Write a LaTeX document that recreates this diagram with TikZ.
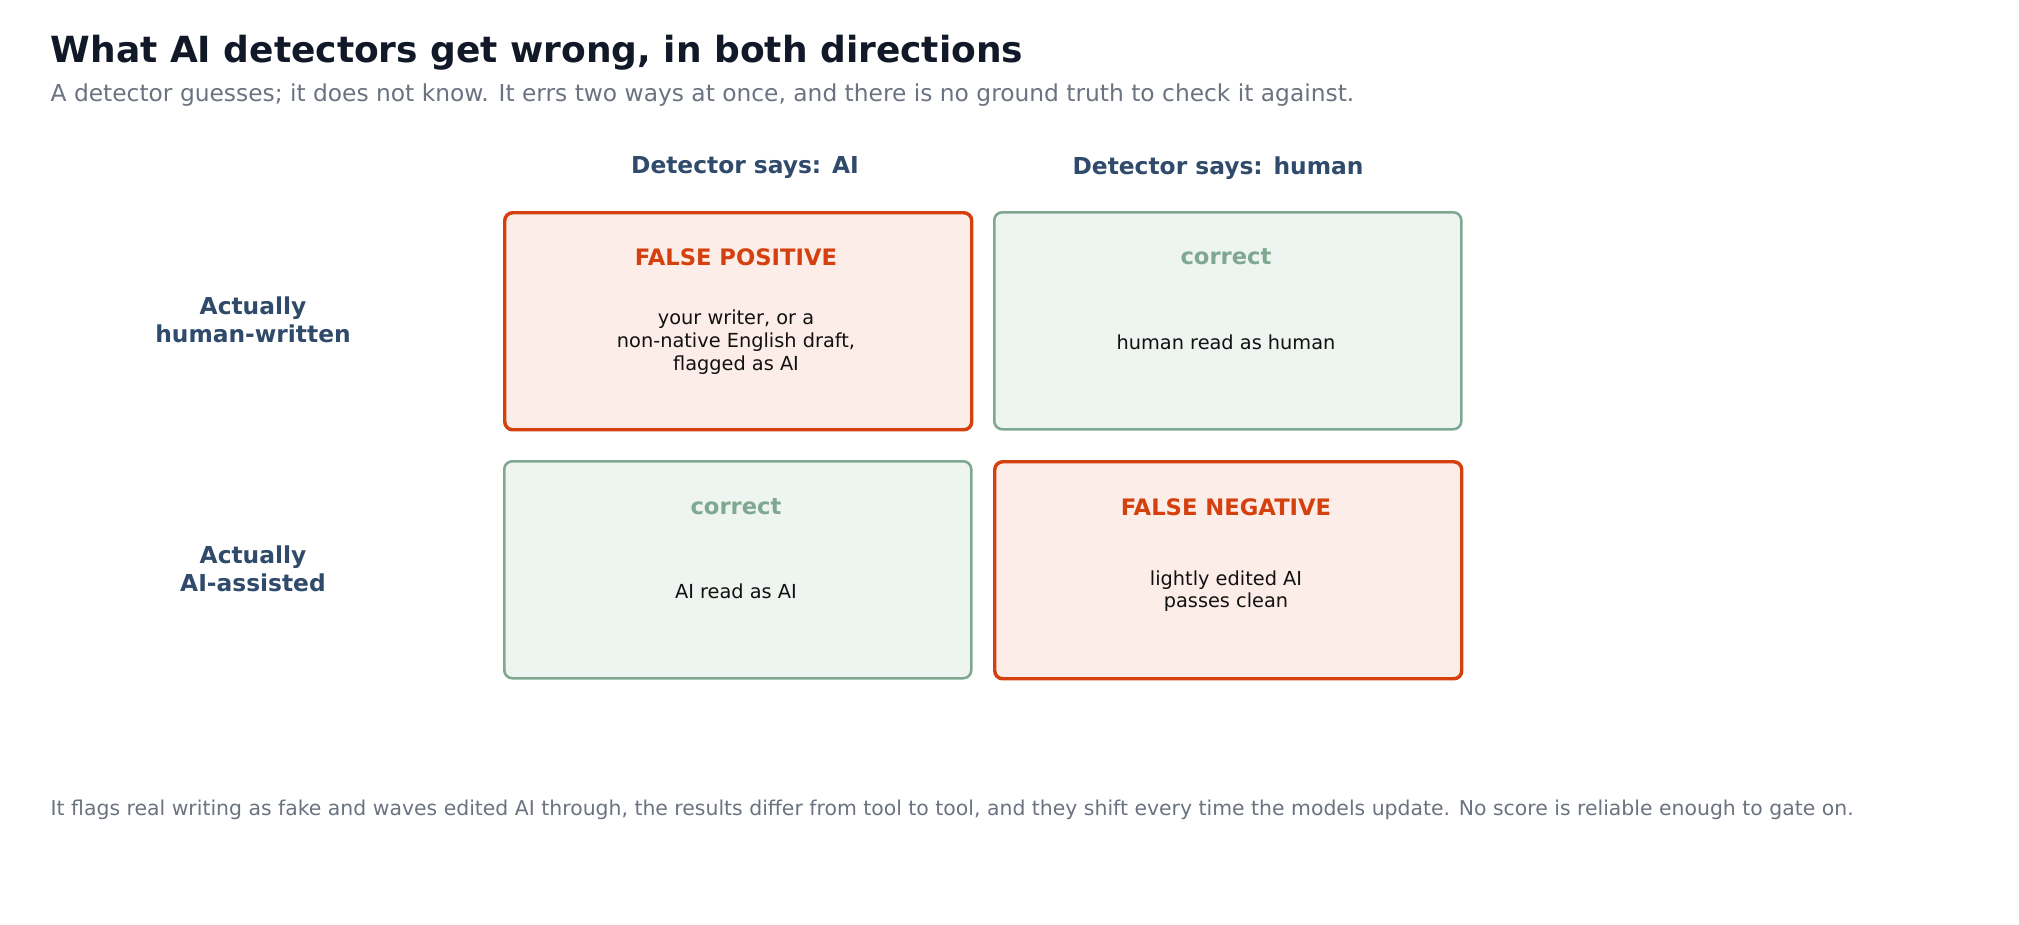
\documentclass[tikz,border=0pt]{standalone}
\usepackage{fontspec}
\setmainfont{DejaVu Sans}
\definecolor{ttl}{HTML}{111827}
\definecolor{sub}{HTML}{6B7280}
\definecolor{hdr}{HTML}{2F4A6A}
\definecolor{err}{HTML}{D4410F}
\definecolor{errf}{HTML}{FCEDE8}
\definecolor{ok}{HTML}{7FA892}
\definecolor{okf}{HTML}{EEF4EF}
\definecolor{body}{HTML}{111111}
\begin{document}
\begin{tikzpicture}[x=0.75pt,y=-0.75pt,
  box/.style={rounded corners=6pt,minimum width=467*0.75pt,minimum height=217*0.75pt,anchor=north west},
  bad/.style={box,draw=err,fill=errf,line width=2.6pt},
  good/.style={box,draw=ok,fill=okf,line width=1.9pt},
  btitle/.style={font=\fontsize{17}{20}\selectfont\bfseries},
  btxt/.style={font=\fontsize{14.5}{17}\selectfont,text=body,align=center},
  rowl/.style={font=\fontsize{17.5}{21}\selectfont\bfseries,text=hdr,align=center},
  colh/.style={font=\fontsize{17.5}{21}\selectfont\bfseries,text=hdr}]
\useasboundingbox (0,0) rectangle (2019,924);
\node[anchor=west,font=\fontsize{27}{32}\selectfont\bfseries,text=ttl] (title) at (46,53) {What AI detectors get wrong, in both directions};
\node[anchor=west,font=\fontsize{17.5}{21}\selectfont,text=sub] (subt) at (46,95) {A detector guesses; it does not know. It errs two ways at once, and there is no ground truth to check it against.};
\node[colh] (c1) at (745,168) {Detector says: AI};
\node[colh] (c2) at (1218,168) {Detector says: human};
\node[rowl] (r1) at (253,320) {Actually\\human-written};
\node[rowl] (r2) at (253,569) {Actually\\AI-assisted};
\node[bad] (b11) at (503,211) {};
\node[good] (b12) at (993,211) {};
\node[good] (b21) at (503,460) {};
\node[bad] (b22) at (993,460) {};
\node[btitle,text=err] (t11) at (736,257) {FALSE POSITIVE};
\node[btxt] (x11) at (736,342) {your writer, or a\\non-native English draft,\\flagged as AI};
\node[btitle,text=ok] (t12) at (1226,257) {correct};
\node[btxt] (x12) at (1226,342) {human read as human};
\node[btitle,text=ok] (t21) at (736,507) {correct};
\node[btxt] (x21) at (736,591) {AI read as AI};
\node[btitle,text=err] (t22) at (1226,507) {FALSE NEGATIVE};
\node[btxt] (x22) at (1226,591) {lightly edited AI\\passes clean};
\node[anchor=west,font=\fontsize{15.3}{18}\selectfont,text=sub] (foot) at (46,810) {It flags real writing as fake and waves edited AI through, the results differ from tool to tool, and they shift every time the models update. No score is reliable enough to gate on.};
\end{tikzpicture}
\end{document}
